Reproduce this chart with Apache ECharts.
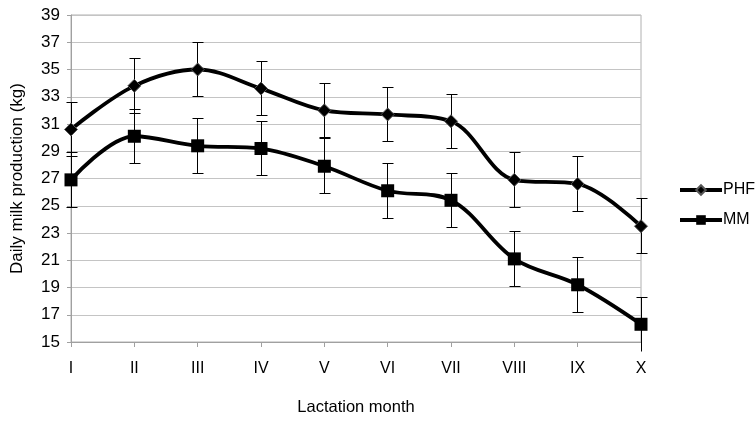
<!DOCTYPE html>
<html>
<head>
<meta charset="utf-8">
<script src="https://cdn.jsdelivr.net/npm/echarts@6/dist/echarts.min.js"></script>
<style>html,body{margin:0;padding:0;background:#fff}#c{width:755px;height:421px}</style>
</head>
<body>
<div id="c"></div>
<script>
var months = ['I','II','III','IV','V','VI','VII','VIII','IX','X'];
var phf = [30.6, 33.8, 35.0, 33.6, 32.0, 31.7, 31.2, 26.9, 26.6, 23.5];
var phfErr = [2.0, 2.0, 2.0, 2.0, 2.0, 2.0, 2.0, 2.0, 2.0, 2.0];
var mm = [26.9, 30.1, 29.4, 29.2, 27.9, 26.1, 25.4, 21.1, 19.2, 16.3];
var mmErr = [2.0, 2.0, 2.0, 2.0, 2.0, 2.0, 2.0, 2.0, 2.0, 2.0];
var yMin = 15, yMax = 39, yStep = 2;

var FONT = 'Liberation Sans, Arial, sans-serif';

function errData(vals, errs) {
  return vals.map(function (v, i) { return [i, v - errs[i], v + errs[i]]; });
}
function px(v) { return Math.round(v - 0.5) + 0.5; }
function renderErr(params, api) {
  var x = api.value(0);
  var lo = api.coord([x, api.value(1)]);
  var hi = api.coord([x, api.value(2)]);
  var cx = px(lo[0]);
  var yl = px(lo[1]), yh = px(hi[1]);
  var half = 5;
  var st = { stroke: '#000', lineWidth: 1 };
  var children = [
    { type: 'line', shape: { x1: cx, y1: yl, x2: cx, y2: yh }, style: st },
    { type: 'line', shape: { x1: cx - half, y1: yh, x2: cx + half + 1, y2: yh }, style: st }
  ];
  if (api.value(1) >= yMin) {
    children.push({ type: 'line', shape: { x1: cx - half, y1: yl, x2: cx + half + 1, y2: yl }, style: st });
  }
  return { type: 'group', children: children };
}

var chart = echarts.init(document.getElementById('c'));
chart.setOption({
  animation: false,
  textStyle: { fontFamily: FONT },
  grid: { left: 71, right: 114, top: 15, bottom: 76, show: true, borderColor: '#b0b0b0', borderWidth: 1 },
  legend: {
    orient: 'vertical', left: 678, top: 182, padding: 0,
    itemWidth: 42, itemHeight: 12, itemGap: 14,
    lineStyle: { width: 4, color: '#000' },
    textStyle: { fontSize: 16, color: '#000', fontFamily: FONT, padding: [0, 0, 0, -4] },
    data: ['PHF', 'MM']
  },
  xAxis: {
    type: 'category', data: months, boundaryGap: false,
    name: 'Lactation month', nameLocation: 'middle', nameGap: 57,
    nameTextStyle: { fontSize: 16.5, color: '#000' },
    axisLine: { lineStyle: { color: '#a0a0a0' } },
    axisTick: { show: true, length: 5, lineStyle: { color: '#a0a0a0' } },
    axisLabel: { fontSize: 16, color: '#000', margin: 19 },
    splitLine: { show: false }
  },
  yAxis: {
    type: 'value', min: yMin, max: yMax, interval: yStep,
    name: 'Daily milk production (kg)', nameLocation: 'middle', nameGap: 45,
    nameTextStyle: { fontSize: 17, color: '#000' },
    axisLine: { show: true, lineStyle: { color: '#a0a0a0' } },
    axisTick: { show: true, length: 4, lineStyle: { color: '#a0a0a0' } },
    axisLabel: { fontSize: 17, color: '#000', margin: 11 },
    splitLine: { lineStyle: { color: '#c4c4c4', width: 1 } }
  },
  series: [
    { type: 'custom', name: 'phfErr', renderItem: renderErr, data: errData(phf, phfErr), z: 1, clip: false, silent: true },
    { type: 'custom', name: 'mmErr', renderItem: renderErr, data: errData(mm, mmErr), z: 1, clip: false, silent: true },
    {
      type: 'line', name: 'PHF', data: phf, smooth: 0.35, z: 3,
      symbol: 'diamond', symbolSize: 13,
      lineStyle: { color: '#000', width: 3.8 },
      itemStyle: { color: '#000', borderColor: '#555', borderWidth: 1 }
    },
    {
      type: 'line', name: 'MM', data: mm, smooth: 0.35, z: 3,
      symbol: 'rect', symbolSize: 13,
      lineStyle: { color: '#000', width: 3.8 },
      itemStyle: { color: '#000', borderColor: '#000', borderWidth: 0 }
    }
  ]
});
</script>
</body>
</html>
